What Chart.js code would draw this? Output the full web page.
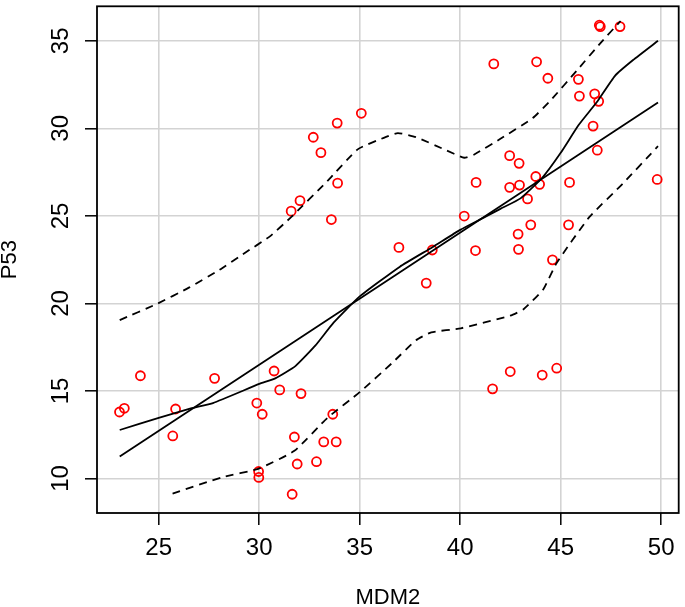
<!DOCTYPE html>
<html>
<head>
<meta charset="utf-8">
<script src="https://cdn.jsdelivr.net/npm/chart.js@4"></script>
<style>
  html, body { margin: 0; padding: 0; background: #fff; }
  #wrap { width: 685px; height: 607px; }
</style>
</head>
<body>
<div id="wrap"><canvas id="c"></canvas></div>
<script>
// observed points
const mdm2 = [35.08, 33.88, 32.69, 33.07, 33.90, 32.03, 31.59, 33.59,
  46.92, 46.97, 47.95, 41.67, 43.80, 44.36, 45.88, 45.93, 46.69, 46.89, 46.61, 46.82,
  49.80, 42.46, 42.93, 43.76, 40.79, 42.46, 42.95, 43.95, 45.44, 43.35, 40.20, 43.51,
  45.39, 42.88, 36.95, 38.61, 40.76, 42.90, 44.59, 38.31, 41.61, 42.49, 44.08, 44.80,
  23.05, 23.29, 24.09, 27.78, 25.84, 25.70, 29.88, 30.15, 30.74, 31.02, 32.08, 33.66,
  31.75, 33.21, 33.83, 31.89, 32.85, 29.97, 29.98, 31.64];
const p53 = [30.86, 30.30, 29.49, 28.61, 26.87, 25.87, 25.27, 24.79,
  35.89, 35.81, 35.81, 33.68, 33.80, 32.86, 32.80, 31.84, 31.97, 31.54, 30.13, 28.75,
  27.08, 28.44, 28.00, 27.25, 26.91, 26.63, 26.76, 26.80, 26.91, 25.97, 24.99, 24.49,
  24.49, 23.96, 23.20, 23.05, 23.02, 23.09, 22.49, 21.16, 15.12, 16.11, 15.91, 16.30,
  13.80, 14.01, 15.87, 15.72, 13.97, 12.43, 14.31, 13.67, 16.14, 15.06, 14.85, 13.67,
  12.37, 12.09, 12.09, 10.83, 10.96, 10.40, 10.06, 9.10];

// linear fit
const fitX = [23.06, 49.84];
const fitY = [11.26, 31.48];

// smoother
const smoothX = [23.06, 25.0, 26.6, 27.7, 30.0, 30.8, 31.8, 32.8, 33.7, 35.0, 37.0, 38.6,
  40.0, 41.0, 42.0, 43.0, 44.1, 45.0, 45.9, 46.8, 47.7, 48.6, 49.84];
const smoothY = [12.77, 13.46, 14.0, 14.31, 15.4, 15.72, 16.42, 17.6, 18.9, 20.4, 22.1, 23.2,
  24.2, 24.8, 25.4, 26.0, 27.2, 28.6, 30.2, 31.5, 33.0, 33.9, 35.0];

// spread (dashed)
const upperX = [23.06, 24.87, 26.5, 28.0, 29.3, 30.5, 31.6, 33.4, 34.9, 36.2, 36.9, 37.8,
  39.2, 40.2, 40.7, 42.0, 43.6, 44.5, 45.8, 47.0, 47.98];
const upperY = [19.05, 19.95, 20.9, 21.9, 22.9, 23.8, 24.94, 27.0, 28.8, 29.46, 29.73, 29.5,
  28.8, 28.32, 28.51, 29.4, 30.58, 31.6, 33.3, 34.9, 36.13];
const lowerX = [25.69, 28.15, 29.95, 31.75, 33.39, 35.03, 36.67, 37.8, 38.56, 40.03, 42.49,
  43.15, 44.13, 44.79, 46.43, 48.07, 49.84];
const lowerY = [9.14, 10.07, 10.55, 11.58, 13.46, 14.96, 16.66, 17.9, 18.35, 18.58, 19.30,
  19.67, 20.80, 22.3, 24.94, 26.82, 28.98];

const xTicks = [25, 30, 35, 40, 45, 50];
const yTicks = [10, 15, 20, 25, 30, 35];

const pts = (xs, ys) => xs.map((x, i) => ({ x: x, y: ys[i] }));

const lineSet = (xs, ys, dash) => ({
  type: 'line',
  data: pts(xs, ys),
  borderColor: '#000',
  borderWidth: 1.8,
  borderDash: dash,
  pointRadius: 0,
  fill: false,
  tension: 0.15
});

// box round the plot + rotated y labels (R style)
const frame = {
  id: 'frame',
  afterDraw(chart) {
    const ctx = chart.ctx, a = chart.chartArea, y = chart.scales.y;
    ctx.save();
    ctx.strokeStyle = '#000';
    ctx.lineWidth = 1.8;
    ctx.strokeRect(a.left, a.top, a.right - a.left, a.bottom - a.top);
    ctx.font = '24px "Liberation Sans", Arial, sans-serif';
    ctx.fillStyle = '#000';
    ctx.textAlign = 'center';
    ctx.textBaseline = 'middle';
    yTicks.forEach(v => {
      const py = y.getPixelForValue(v);
      ctx.save();
      ctx.translate(61, py);
      ctx.rotate(-Math.PI / 2);
      ctx.fillText(String(v), 0, 0);
      ctx.restore();
    });
    ctx.restore();
  }
};

const grid = {
  color: '#d3d3d3',
  lineWidth: 1.6,
  drawTicks: true,
  tickLength: 12,
  tickColor: '#000',
  tickWidth: 1.5
};

new Chart(document.getElementById('c'), {
  type: 'scatter',
  data: {
    datasets: [
      lineSet(fitX, fitY, []),
      lineSet(smoothX, smoothY, []),
      lineSet(upperX, upperY, [8, 6]),
      lineSet(lowerX, lowerY, [8, 6]),
      {
        data: pts(mdm2, p53),
        pointStyle: 'circle',
        pointRadius: 4.5,
        pointBorderWidth: 1.8,
        borderColor: '#f00',
        backgroundColor: 'rgba(0,0,0,0)',
        showLine: false
      }
    ]
  },
  options: {
    responsive: true,
    maintainAspectRatio: false,
    animation: false,
    layout: { padding: { left: 0, top: 3, right: 2, bottom: 0 } },
    plugins: { legend: { display: false }, tooltip: { enabled: false } },
    scales: {
      x: {
        type: 'linear',
        min: 21.93,
        max: 50.87,
        afterBuildTicks: s => { s.ticks = xTicks.map(v => ({ value: v })); },
        afterFit: s => { s.height = 94; },
        border: { display: false },
        grid: grid,
        ticks: {
          color: '#000',
          padding: 9,
          autoSkip: false,
          maxRotation: 0,
          font: { family: '"Liberation Sans", Arial, sans-serif', size: 24 }
        },
        title: {
          display: true,
          text: 'MDM2',
          color: '#000',
          padding: 0,
          font: { family: '"Liberation Sans", Arial, sans-serif', size: 22, lineHeight: 0.8 }
        }
      },
      y: {
        type: 'linear',
        min: 8.03,
        max: 36.97,
        afterBuildTicks: s => { s.ticks = yTicks.map(v => ({ value: v })); },
        afterFit: s => { s.width = 97; },
        border: { display: false },
        grid: grid,
        ticks: { display: false },
        title: {
          display: true,
          text: 'P53',
          color: '#000',
          padding: { top: 1, bottom: 0 },
          font: { family: '"Liberation Sans", Arial, sans-serif', size: 22, lineHeight: 0.8 }
        }
      }
    }
  },
  plugins: [frame]
});
</script>
</body>
</html>
